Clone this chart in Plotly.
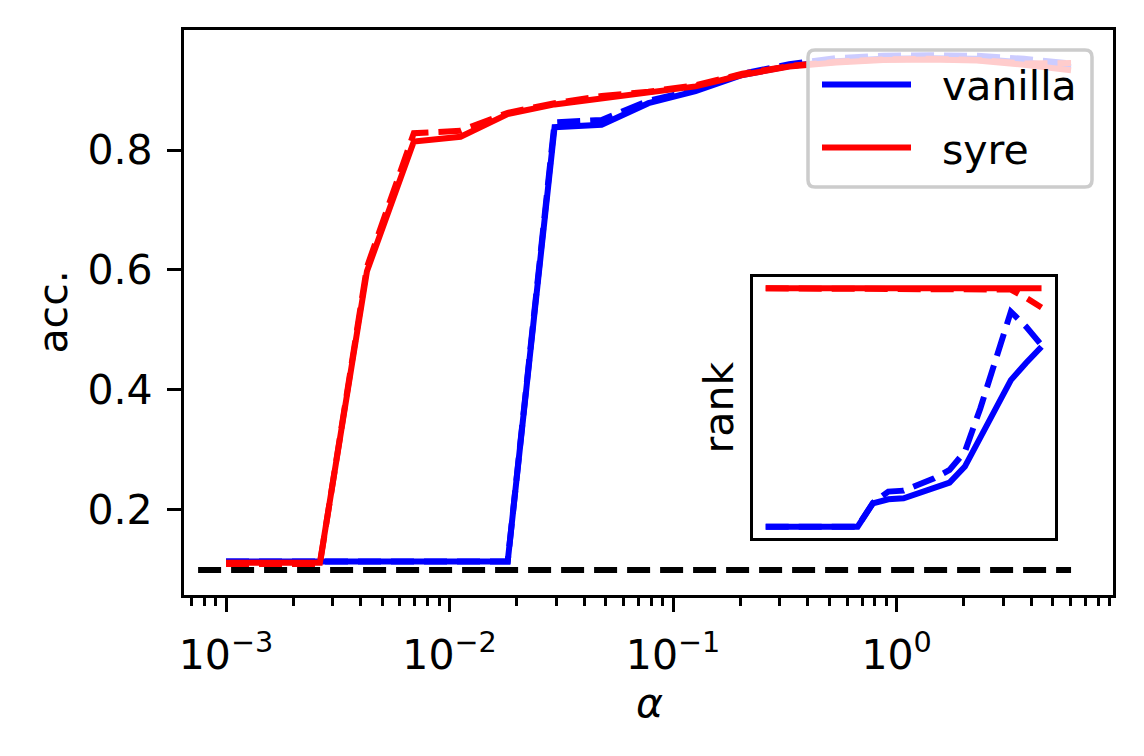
import plotly.graph_objects as go

# alpha grid (log spaced)
alpha = [0.001, 0.00162, 0.00263, 0.00427, 0.00692, 0.0112, 0.0182, 0.0295,
         0.0479, 0.0776, 0.126, 0.204, 0.331, 0.537, 0.871, 1.41, 2.29, 3.72, 6.03]

# main panel: accuracy
acc_vanilla = [0.114, 0.114, 0.114, 0.114, 0.114, 0.114, 0.114, 0.838, 0.842, 0.878,
               0.898, 0.925, 0.940, 0.948, 0.952, 0.953, 0.952, 0.946, 0.938]
acc_vanilla_dash = [0.114, 0.114, 0.114, 0.114, 0.114, 0.114, 0.114, 0.846, 0.850, 0.882,
                    0.900, 0.927, 0.943, 0.953, 0.957, 0.958, 0.957, 0.952, 0.944]
acc_syre = [0.112, 0.112, 0.112, 0.598, 0.814, 0.822, 0.860, 0.876, 0.886, 0.894,
            0.906, 0.925, 0.939, 0.946, 0.950, 0.951, 0.949, 0.942, 0.933]
acc_syre_dash = [0.110, 0.110, 0.110, 0.605, 0.828, 0.832, 0.862, 0.878, 0.890, 0.897,
                 0.908, 0.927, 0.940, 0.947, 0.951, 0.952, 0.950, 0.944, 0.945]
chance_x = [7.5e-4, 6.03]
chance_y = [0.1, 0.1]

# inset: rank (no tick labels in the original, normalised scale)
rank_vanilla = [0.0, 0.0, 0.0, 0.0, 0.0, 0.0, 0.0, 0.098, 0.115, 0.119,
                0.140, 0.161, 0.185, 0.252, 0.370, 0.495, 0.615, 0.688, 0.755]
rank_vanilla_dash = [0.0, 0.0, 0.0, 0.0, 0.0, 0.0, 0.0, 0.100, 0.147, 0.151,
                     0.175, 0.203, 0.238, 0.315, 0.495, 0.708, 0.902, 0.839, 0.762]
rank_syre = [1.0, 1.0, 1.0, 1.0, 1.0, 1.0, 1.0, 1.0, 1.0, 1.0,
             1.0, 1.0, 1.0, 1.0, 1.0, 1.0, 1.0, 1.0, 1.0]
rank_syre_dash = [1.0, 1.0, 1.0, 1.0, 1.0, 1.0, 1.0, 1.0, 1.0, 1.0,
                  1.0, 1.0, 1.0, 1.0, 1.0, 1.0, 0.995, 0.960, 0.920]

x_tickvals = [1e-3, 1e-2, 1e-1, 1]
x_ticktext = ["10<sup>−3</sup>", "10<sup>−2</sup>", "10<sup>−1</sup>", "10<sup>0</sup>"]
y_tickvals = [0.2, 0.4, 0.6, 0.8]
y_ticktext = ["0.2", "0.4", "0.6", "0.8"]
minor_vals = [k * 10.0 ** e for e in range(-4, 1) for k in range(2, 10)]

BLUE = "#0000FF"
RED = "#FF0000"
FONT = "DejaVu Sans"
FS = 41
LW = 6
DASH = "23px,10px"
TXT = dict(family=FONT, size=FS, color="black")

fig = go.Figure()

series = [
    (acc_vanilla, rank_vanilla, BLUE, "solid"),
    (acc_vanilla_dash, rank_vanilla_dash, BLUE, DASH),
    (acc_syre, rank_syre, RED, "solid"),
    (acc_syre_dash, rank_syre_dash, RED, DASH),
]
for acc, rank, color, dash in series:
    fig.add_trace(go.Scatter(
        x=alpha, y=acc, mode="lines",
        line=dict(color=color, width=LW, dash=dash),
        showlegend=False, xaxis="x", yaxis="y",
    ))
fig.add_trace(go.Scatter(
    x=chance_x, y=chance_y, mode="lines",
    line=dict(color="black", width=LW, dash=DASH),
    showlegend=False, xaxis="x", yaxis="y",
))
for acc, rank, color, dash in series:
    fig.add_trace(go.Scatter(
        x=alpha, y=rank, mode="lines",
        line=dict(color=color, width=LW, dash=dash),
        showlegend=False, xaxis="x2", yaxis="y2",
    ))

# page body has an 8px margin, so the figure is shrunk by that amount
OFF = 8
FIG_W, FIG_H = 1144 - OFF, 756 - OFF
# plot area in page pixels; helpers map page px -> paper coords
L, R, T, B = 184, 1113, 30, 595
W, H = R - L, B - T


def px(x):
    return (x - L) / W


def py(y):
    return (B - y) / H


axis_common = dict(showline=True, mirror=True, linecolor="black", linewidth=3.3,
                   showgrid=False, zeroline=False)

fig.update_layout(
    width=FIG_W, height=FIG_H,
    margin=dict(l=L - OFF, r=FIG_W - (R - OFF), t=T - OFF, b=FIG_H - (B - OFF)),
    paper_bgcolor="white", plot_bgcolor="white",
    font=TXT,
    xaxis=dict(
        type="log", range=[-3.188, 0.968], domain=[0, 1],
        tickvals=x_tickvals, ticktext=x_ticktext, tickfont=TXT,
        ticks="outside", ticklen=14, tickwidth=3.3, tickcolor="black",
        ticklabelstandoff=8,
        minor=dict(tickvals=minor_vals, ticks="outside", ticklen=8,
                   tickwidth=2.5, tickcolor="black"),
        **axis_common,
    ),
    yaxis=dict(
        range=[0.0583, 1.0], domain=[0, 1],
        tickvals=y_tickvals, ticktext=y_ticktext, tickfont=TXT,
        ticks="outside", ticklen=14, tickwidth=3.3, tickcolor="black",
        ticklabelstandoff=6,
        **axis_common,
    ),
    xaxis2=dict(
        type="log", range=[-3.17, 0.965], domain=[px(753.3), px(1055)],
        anchor="y2", showticklabels=False, ticks="",
        **axis_common,
    ),
    yaxis2=dict(
        range=[-0.049, 1.049], domain=[py(538.3), py(276.7)],
        anchor="x2", showticklabels=False, ticks="",
        **axis_common,
    ),
)

# legend box (semi-transparent, rounded corners) drawn over the lines
x0, x1, y0, y1 = px(808), px(1092), py(187), py(50)
rx, ry = 7 / W, 7 / H
path = (f"M{x0 + rx},{y0} L{x1 - rx},{y0} Q{x1},{y0} {x1},{y0 + ry} "
        f"L{x1},{y1 - ry} Q{x1},{y1} {x1 - rx},{y1} L{x0 + rx},{y1} "
        f"Q{x0},{y1} {x0},{y1 - ry} L{x0},{y0 + ry} Q{x0},{y0} {x0 + rx},{y0} Z")
fig.add_shape(type="path", path=path, xref="paper", yref="paper", layer="above",
              fillcolor="rgba(255,255,255,0.8)", line=dict(color="#CCCCCC", width=3.5))
for label, color, ly in [("vanilla", BLUE, 84.5), ("syre", RED, 147.5)]:
    fig.add_shape(type="line", xref="paper", yref="paper", layer="above",
                  x0=px(822), x1=px(911), y0=py(ly), y1=py(ly),
                  line=dict(color=color, width=LW))
    fig.add_annotation(x=px(940), y=py(ly + 2), xref="paper", yref="paper",
                       text=label, showarrow=False, xanchor="left", yanchor="middle",
                       font=TXT)

# axis titles
fig.add_annotation(x=px(52), y=py(312.5), xref="paper", yref="paper", text="acc.",
                   textangle=-90, showarrow=False, xanchor="center", yanchor="middle",
                   font=TXT)
fig.add_annotation(x=px(649), y=py(703), xref="paper", yref="paper", text="<i>α</i>",
                   showarrow=False, xanchor="center", yanchor="middle", font=TXT)
fig.add_annotation(x=px(718), y=py(407.5), xref="paper", yref="paper", text="rank",
                   textangle=-90, showarrow=False, xanchor="center", yanchor="middle",
                   font=TXT)

fig.write_html("out.html")
